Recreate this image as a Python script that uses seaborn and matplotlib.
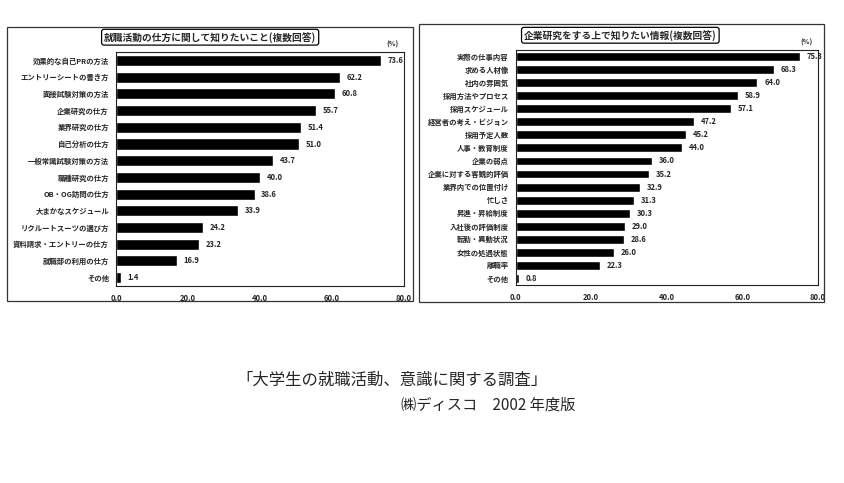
import matplotlib
matplotlib.use("Agg")
import matplotlib.pyplot as plt
import seaborn as sns
import pandas as pd
from matplotlib.patches import Rectangle

# data
left_labels = ["効果的な自己PRの方法", "エントリーシートの書き方", "面接試験対策の方法",
               "企業研究の仕方", "業界研究の仕方", "自己分析の仕方", "一般常識試験対策の方法",
               "職種研究の仕方", "OB・OG訪問の仕方", "大まかなスケジュール",
               "リクルートスーツの選び方", "資料請求・エントリーの仕方", "就職部の利用の仕方", "その他"]
left_values = [73.6, 62.2, 60.8, 55.7, 51.4, 51.0, 43.7, 40.0, 38.6, 33.9, 24.2, 23.2, 16.9, 1.4]

right_labels = ["実際の仕事内容", "求める人材像", "社内の雰囲気", "採用方法やプロセス",
                "採用スケジュール", "経営者の考え・ビジョン", "採用予定人数", "人事・教育制度",
                "企業の弱点", "企業に対する客観的評価", "業界内での位置付け", "忙しさ",
                "昇進・昇給制度", "入社後の評価制度", "転勤・異動状況", "女性の処遇状態",
                "離職率", "その他"]
right_values = [75.3, 68.3, 64.0, 58.9, 57.1, 47.2, 45.2, 44.0, 36.0, 35.2, 32.9, 31.3,
                30.3, 29.0, 28.6, 26.0, 22.3, 0.8]

left_title = "就職活動の仕方に関して知りたいこと(複数回答)"
right_title = "企業研究をする上で知りたい情報(複数回答)"
xticks = [0, 20, 40, 60, 80]

sns.set_style("white")
plt.rcParams["font.family"] = ["Noto Sans CJK JP", "DejaVu Sans"]

fig = plt.figure(figsize=(8.44, 4.83), dpi=100)
fig.patch.set_facecolor("white")

# outer frames around each chart
fig.add_artist(Rectangle((0.0083, 0.377), 0.481, 0.567, transform=fig.transFigure,
                         fill=False, lw=0.9, ec="#333333"))
fig.add_artist(Rectangle((0.4964, 0.375), 0.48, 0.5756, transform=fig.transFigure,
                         fill=False, lw=0.9, ec="#333333"))


def draw(rect, labels, values, title, title_xy, pct_xy, bar_h, fs):
    ax = fig.add_axes(rect)
    df = pd.DataFrame({"label": labels, "value": values})
    sns.barplot(data=df, x="value", y="label", color="black", orient="h",
                width=bar_h, ax=ax, saturation=1)
    ax.set_xlim(0, 80)
    ax.set_xticks(xticks)
    ax.set_xticklabels([f"{t:.1f}" for t in xticks], fontsize=5.5, fontweight="bold")
    ax.tick_params(axis="x", length=2, width=0.6, pad=6, direction="in")
    ax.tick_params(axis="y", length=0, pad=5, labelsize=fs)
    for lab in ax.get_yticklabels():
        lab.set_fontweight("bold")
    ax.set_xlabel("")
    ax.set_ylabel("")
    for s in ax.spines.values():
        s.set_visible(True)
        s.set_linewidth(0.8)
        s.set_color("#222222")
    for i, v in enumerate(values):
        ax.text(v + 1.8, i, f"{v:.1f}", va="center", ha="left", fontsize=5.5,
                fontweight="bold")
    fig.text(title_xy[0], title_xy[1], title, ha="center", va="center", fontsize=7,
             fontweight="bold",
             bbox=dict(boxstyle="round,pad=0.25", fc="white", ec="black", lw=0.9))
    fig.text(pct_xy[0], pct_xy[1], "(%)", ha="center", va="center", fontsize=5,
             fontweight="bold")
    return ax


draw([0.1374, 0.408, 0.341, 0.484], left_labels, left_values, left_title,
     (0.249, 0.923), (0.465, 0.909), 0.66, 5.3)
draw([0.611, 0.410, 0.358, 0.4865], right_labels, right_values, right_title,
     (0.735, 0.927), (0.955, 0.913), 0.68, 5.3)

fig.text(0.464, 0.213, "「大学生の就職活動、意識に関する調査」", ha="center", va="center",
         fontsize=11.8)
fig.text(0.578, 0.162, "㈱ディスコ　2002 年度版", ha="center", va="center", fontsize=11)

fig.savefig("out.png", dpi=100, facecolor="white")
